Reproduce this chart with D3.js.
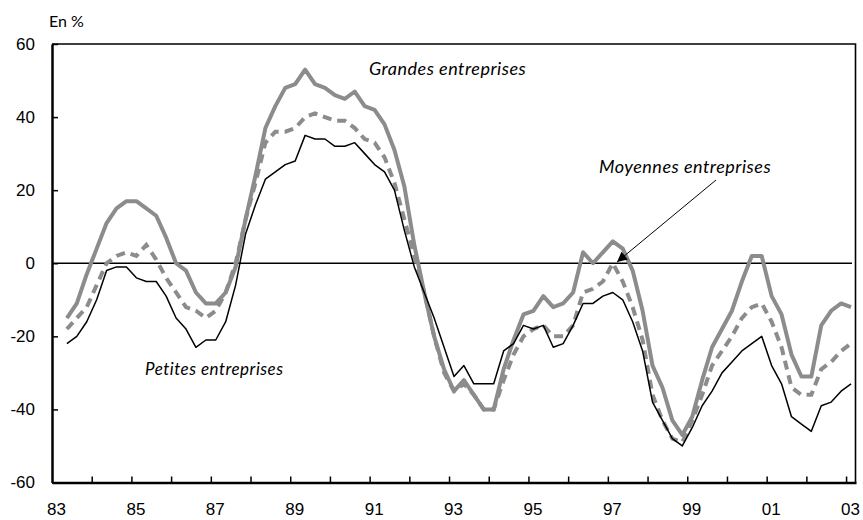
<!DOCTYPE html>
<html>
<head>
<meta charset="utf-8">
<script src="https://cdn.jsdelivr.net/npm/d3@7"></script>
<style>
  body { margin: 0; background: #fff; }
  svg { display: block; font-family: Lato, "Open Sans", sans-serif; }
</style>
</head>
<body>
<svg width="863" height="520"></svg>
<script>
// quarterly series, 1983 Q2 -> 2003 Q1
var firstPeriod = 1983.375
var grandes = [-15,-11,-3,4,11,15,17,17,15,13,7,0,-2,-8,-11,-11,-8,-1,12,24,
  37,43,48,49,53,49,48,46,45,47,43,42,38,31,21,5,-8,-20,-29,-35,
  -32,-36,-40,-40,-29,-21,-14,-13,-9,-12,-11,-8,3,0,3,6,4,-2,-13,-28,
  -34,-43,-47,-42,-32,-23,-18,-13,-5,2,2,-9,-14,-25,-31,-31,-17,-13,-11,-12]
var moyennes = [-18,-15,-12,-6,0,2,3,2,5,1,-4,-8,-12,-13,-15,-13,-8,0,12,22,
  33,36,36,37,40,41,40,39,39,37,34,33,29,22,12,2,-8,-20,-30,-35,
  -33,-36,-40,-40,-32,-25,-20,-18,-17,-20,-20,-17,-8,-7,-5,0,-5,-12,-21,-36,
  -43,-48,-49,-43,-36,-28,-24,-20,-15,-12,-11,-16,-23,-34,-36,-36,-29,-27,-24,-22]
var petites = [-22,-20,-16,-10,-2,-1,-1,-4,-5,-5,-9,-15,-18,-23,-21,-21,-16,-6,8,16,
  23,25,27,28,35,34,34,32,32,33,30,27,25,20,9,-1,-8,-15,-23,-31,
  -28,-33,-33,-33,-24,-22,-17,-18,-17,-23,-22,-17,-11,-11,-9,-8,-10,-16,-24,-38,
  -43,-48,-50,-45,-39,-35,-30,-27,-24,-22,-20,-28,-33,-42,-44,-46,-39,-38,-35,-33]

var yTicks = [-60,-40,-20,0,20,40,60]
var xTickYears = d3.range(1984, 2004)
var xLabelYears = [1983,1985,1987,1989,1991,1993,1995,1997,1999,2001,2003]
var xLabels = ["83","85","87","89","91","93","95","97","99","01","03"]

var gray = "#8c8c8c"
var svg = d3.select("svg")
var plotLeft = 52, plotRight = 856, plotTop = 44, plotBottom = 482.5

var x = d3.scaleLinear().domain([1983, 2003.25]).range([plotLeft, plotRight])
var y = d3.scaleLinear().domain([-60, 60]).range([plotBottom, plotTop])

function toPoints(vals) {
    return vals.map(function(v, i) { return [firstPeriod + i/4, v] })
}
var line = d3.line().x(function(d) { return x(d[0]) }).y(function(d) { return y(d[1]) })

// frame top + right
svg.append("path")
    .attr("d", "M" + plotLeft + "," + plotTop + "H" + (plotRight - 0.5) + "V" + plotBottom)
    .attr("fill", "none").attr("stroke", "#000").attr("stroke-width", 1.6)

// zero line
svg.append("line")
    .attr("x1", plotLeft).attr("x2", plotRight - 4)
    .attr("y1", y(0)).attr("y2", y(0))
    .attr("stroke", "#000").attr("stroke-width", 1.4)

// series
svg.append("path").datum(toPoints(grandes)).attr("d", line)
    .attr("fill", "none").attr("stroke", gray).attr("stroke-width", 4)
    .attr("stroke-linejoin", "round")
svg.append("path").datum(toPoints(moyennes)).attr("d", line)
    .attr("fill", "none").attr("stroke", gray).attr("stroke-width", 4)
    .attr("stroke-dasharray", "9,6")
svg.append("path").datum(toPoints(petites)).attr("d", line)
    .attr("fill", "none").attr("stroke", "#000").attr("stroke-width", 1.5)
    .attr("stroke-linejoin", "round")

// y axis, ticks pointing inwards
var yAxis = svg.append("g")
    .attr("transform", "translate(" + plotLeft + ",0)")
    .call(d3.axisLeft(y).tickValues(yTicks).tickSizeInner(-6).tickSizeOuter(0).tickPadding(17)
        .tickFormat(function(d) { return String(d) }))
yAxis.select(".domain").attr("stroke-width", 2.5)
yAxis.selectAll(".tick line").attr("stroke-width", 1.5)
yAxis.selectAll("text").attr("font-size", 17).attr("fill", "#000")

// x axis ticks (every year) and labels (every other year)
var xAxis = svg.append("g")
    .attr("transform", "translate(0," + plotBottom + ")")
    .call(d3.axisBottom(x).tickValues(xTickYears).tickSizeInner(-6).tickSizeOuter(0).tickFormat(""))
xAxis.select(".domain").attr("stroke-width", 2.5)
xAxis.selectAll(".tick line").attr("stroke-width", 1.5)

var xLab = svg.append("g")
    .attr("transform", "translate(4," + plotBottom + ")")
    .call(d3.axisBottom(x).tickValues(xLabelYears).tickSize(0).tickPadding(20)
        .tickFormat(function(d, i) { return xLabels[i] }))
xLab.select(".domain").remove()
xLab.selectAll("text").attr("font-size", 17).attr("fill", "#000")

// unit
svg.append("text").attr("x", 49).attr("y", 27)
    .attr("font-size", 16).text("En %")

// series labels
function note(tx, ty, str, size) {
    svg.append("text").attr("x", tx).attr("y", ty)
        .attr("font-size", size).attr("font-style", "italic")
        .attr("letter-spacing", 0.5).text(str)
}
note(369, 75, "Grandes entreprises", 18)
note(599, 173, "Moyennes entreprises", 18)
note(145, 375, "Petites entreprises", 17)

// arrow to the Moyennes line
svg.append("defs").append("marker")
    .attr("id", "head").attr("viewBox", "0 0 10 10")
    .attr("refX", 10).attr("refY", 5)
    .attr("markerWidth", 15).attr("markerHeight", 10)
    .attr("markerUnits", "userSpaceOnUse")
    .attr("orient", "auto")
  .append("path").attr("d", "M0,0L10,5L0,10Z").attr("fill", "#000")
svg.append("line")
    .attr("x1", 716).attr("y1", 180).attr("x2", 617).attr("y2", 262)
    .attr("stroke", "#000").attr("stroke-width", 1)
    .attr("marker-end", "url(#head)")
</script>
</body>
</html>
